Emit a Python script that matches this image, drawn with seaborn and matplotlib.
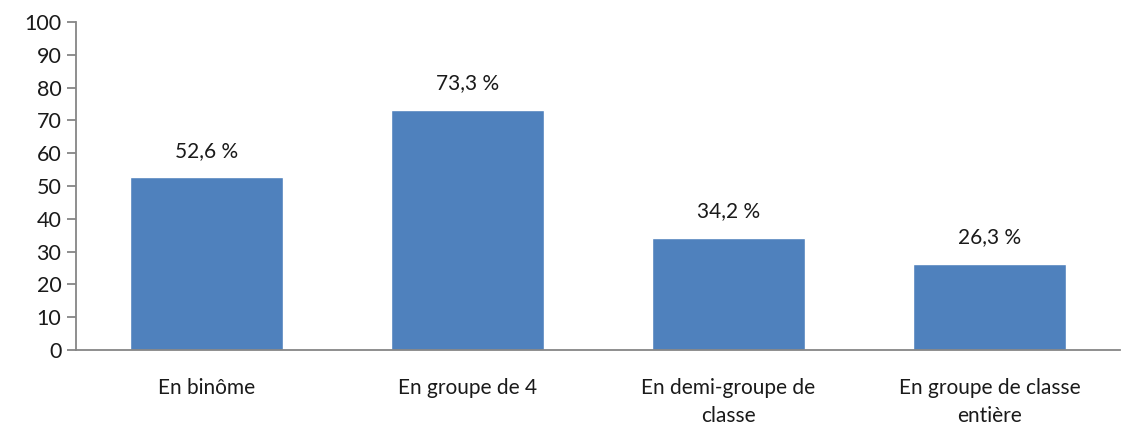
import seaborn as sns
import matplotlib.pyplot as plt
import pandas as pd

# Données
categories = ['En binôme', 'En groupe de 4', 'En demi-groupe de\nclasse', 'En groupe de classe\nentière']
valeurs = [52.6, 73.3, 34.2, 26.3]
etiquettes = ['52,6 %', '73,3 %', '34,2 %', '26,3 %']

df = pd.DataFrame({'categorie': categories, 'valeur': valeurs})

sns.set_style('white')
plt.rcParams['font.family'] = ['Lato', 'DejaVu Sans']

fig = plt.figure(figsize=(11.31, 4.28), dpi=100)
ax = fig.add_axes([76 / 1131, 1 - 350 / 428, (1120 - 76) / 1131, (350 - 22) / 428])

sns.barplot(data=df, x='categorie', y='valeur', color='#4F81BD', saturation=1, width=0.59, ax=ax)

for i, (v, lab) in enumerate(zip(valeurs, etiquettes)):
    ax.text(i, v + 5, lab, ha='center', va='bottom', fontsize=15, color='#1a1a1a')

ax.set_ylim(0, 100)
ax.set_xlim(-0.5, 3.5)
ax.set_yticks(range(0, 101, 10))
ax.set_xlabel('')
ax.set_ylabel('')

for s in ['top', 'right']:
    ax.spines[s].set_visible(False)
for s in ['left', 'bottom']:
    ax.spines[s].set_color('#868686')
    ax.spines[s].set_linewidth(1.3)

ax.tick_params(axis='y', which='both', left=True, length=6.5, width=1.3, color='#868686', labelsize=15.5, labelcolor='#1a1a1a', pad=4)
ax.tick_params(axis='x', bottom=False, labelsize=15, labelcolor='#1a1a1a', pad=17)
for t in ax.get_xticklabels():
    t.set_linespacing(1.45)

plt.savefig('out.png', dpi=100)
